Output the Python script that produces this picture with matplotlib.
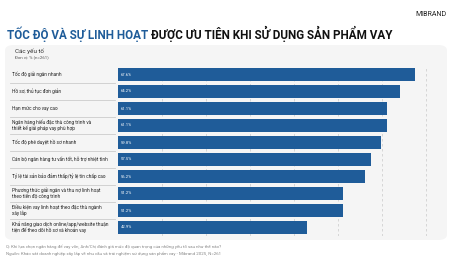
import matplotlib
matplotlib.use("Agg")
import matplotlib.pyplot as plt
from matplotlib.patches import FancyBboxPatch
import numpy as np

plt.rcParams['font.family'] = ['Roboto', 'DejaVu Sans']

factors = [
    "Tốc độ giải ngân nhanh",
    "Hồ sơ, thủ tục đơn giản",
    "Hạn mức cho vay cao",
    "Ngân hàng hiểu đặc thù công trình và\nthiết kế giải pháp vay phù hợp",
    "Tốc độ phê duyệt hồ sơ nhanh",
    "Cán bộ ngân hàng tư vấn tốt, hỗ trợ nhiệt tình",
    "Tỷ lệ tài sản bảo đảm thấp/tỷ lệ tín chấp cao",
    "Phương thức giải ngân và thu nợ linh hoạt\ntheo tiến độ công trình",
    "Điều kiện vay linh hoạt theo đặc thù ngành\nxây lắp",
    "Khả năng giao dịch online/app/website thuận\ntiện để theo dõi hồ sơ và khoản vay",
]
values = [67.6, 64.2, 61.1, 61.1, 59.8, 57.5, 56.2, 51.2, 51.2, 42.9]

W, H = 450, 270
fig = plt.figure(figsize=(W / 100, H / 100), dpi=100)
fig.patch.set_facecolor("white")

def fx(px):
    return px / W

def fy(py):
    return 1 - py / H

# panel background
panel = FancyBboxPatch((fx(5), fy(240)), fx(442), 195 / H,
                       boxstyle="round,pad=0,rounding_size=0.02",
                       transform=fig.transFigure, facecolor="#f5f5f5",
                       edgecolor="none", zorder=-10)
fig.add_artist(panel)

# header
fig.text(fx(447), fy(14), "MIBRAND", ha="right", va="center", fontsize=5,
         color="#222222")
t1 = fig.text(fx(7), fy(34), "TỐC ĐỘ VÀ SỰ LINH HOẠT", ha="left", va="center",
              fontsize=8.4, fontweight="bold", color="#1f5c99")
fig.canvas.draw()
bb = t1.get_window_extent()
fig.text(bb.x1 / W + fx(3), fy(34), "ĐƯỢC ƯU TIÊN KHI SỬ DỤNG SẢN PHẨM VAY",
         ha="left", va="center", fontsize=8.4, fontweight="bold", color="#111111")

fig.text(fx(15), fy(51), "Các yếu tố", ha="left", va="center", fontsize=4.5,
         color="#333333")
fig.text(fx(15), fy(57), "Đơn vị: % (n=261)", ha="left", va="center",
         fontsize=3.2, color="#555555")

# bars
ax = fig.add_axes([fx(118), fy(236), fx(321), 170 / H])
ax.set_facecolor("none")
y = np.arange(len(values))
ax.barh(y, values, height=0.78, color="#1f5c99", zorder=2)
ax.set_xlim(0, 73)
ax.set_ylim(len(values) - 0.5, -0.5)
for xv in range(10, 80, 10):
    ax.axvline(xv, color="#d0d0d0", lw=0.6, ls=(0, (3, 3)), zorder=1)
for i, v in enumerate(values):
    ax.text(0.6, i, f"{v:.1f}%", ha="left", va="center", fontsize=3,
            color="white", zorder=3)
ax.set_xticks([])
ax.set_yticks([])
for s in ax.spines.values():
    s.set_visible(False)

# labels + separators
for i, lab in enumerate(factors):
    ax.text(-0.33, i, lab, transform=ax.get_yaxis_transform(), ha="left",
            va="center", fontsize=3.4, color="#222222", linespacing=1.1)
    if i < len(factors) - 1:
        ax.plot([-0.336, -0.01], [i + 0.5, i + 0.5],
                transform=ax.get_yaxis_transform(), color="#cccccc", lw=0.6,
                clip_on=False)

fig.text(fx(6), fy(247),
         "Q: Khi lựa chọn ngân hàng để vay vốn, Anh/Chị đánh giá mức độ quan trọng của những yếu tố sau như thế nào?",
         ha="left", va="center", fontsize=3.2, color="#888888")
fig.text(fx(6), fy(254),
         "Nguồn: Khảo sát doanh nghiệp xây lắp về nhu cầu và trải nghiệm sử dụng sản phẩm vay - Mibrand 2025, N=261",
         ha="left", va="center", fontsize=3.2, color="#888888")

fig.savefig("out.png", dpi=100, facecolor="white")
